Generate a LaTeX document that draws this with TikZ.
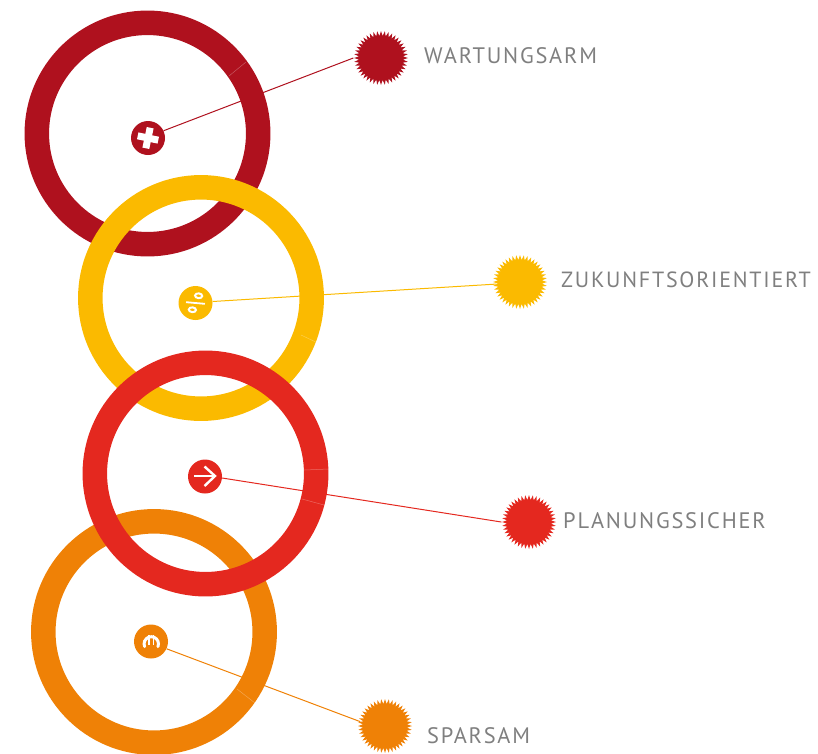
\documentclass[tikz,border=0pt]{standalone}
\usepackage{fontspec}
\setmainfont[LetterSpace=8]{PT Sans}
\usetikzlibrary{shapes.geometric}
\definecolor{cdark}{HTML}{AF111E}
\definecolor{cyel}{HTML}{FBBA00}
\definecolor{cred}{HTML}{E4281F}
\definecolor{corg}{HTML}{EF8106}
\definecolor{cgray}{HTML}{7F7F7F}
\tikzset{
  ring/.style={line width=24.5pt,draw=#1},
  seam/.style={line width=0.5pt,draw=white,opacity=0.3},
  icon/.style={circle,fill=#1,draw=none,minimum size=34pt,inner sep=0pt},
  burst/.style={star,star points=44,star point ratio=1.22,fill=#1,draw=none,minimum size=54pt,inner sep=0pt},
  link/.style={line width=1pt,draw=#1},
  label/.style={anchor=west,text=cgray,font=\fontsize{22.4}{22.4}\selectfont,inner sep=0pt},
  glyph/.style={draw=white,line width=#1,fill=none},
}
\begin{document}
\begin{tikzpicture}[x=1pt,y=-1pt]
\useasboundingbox (0,0) rectangle (818,753);
\clip (0,0) rectangle (818,753);
% nodes
\node[icon=cdark] (i1) at (148,138) {};
\node[icon=cyel] (i2) at (195.5,303) {};
\node[icon=cred] (i3) at (205,476.5) {};
\node[icon=corg] (i4) at (151,641.5) {};
\node[burst=cdark] (s1) at (381,58) {};
\node[burst=cyel] (s2) at (520,282) {};
\node[burst=cred] (s3) at (529,522) {};
\node[burst=corg] (s4) at (385,726) {};
% connectors
\draw[link=cdark] (i1.25) -- (s1.180);
\draw[link=cyel] (i2.5) -- (s2.185);
\draw[link=cred] (i3.355) -- (s3.180);
\draw[link=corg] (i4.335) -- (s4.170);
% rings
\draw[ring=cdark] (147.5,133.5) circle (110.7);
\draw[seam] (229,76) -- (246,62);
\draw[ring=cyel] (201,298) circle (110.7);
\draw[seam] (301,335) -- (322,345);
\draw[ring=corg] (154,632) circle (110.7);
\draw[seam] (237,689) -- (255,703);
\draw[ring=cred] (205.5,473.5) circle (110.7);
\draw[seam] (304,470) -- (329,469);
\draw[seam] (302,499) -- (324,505);
% glyphs
\begin{scope}[shift={(148,138)},rotate=-12]
  \draw[glyph=7pt] (-10.5,0) -- (10.5,0);
  \draw[glyph=7pt] (0,-10.5) -- (0,10.5);
\end{scope}
\begin{scope}[shift={(195.5,303)},rotate=-5]
  \draw[glyph=1.8pt] (-9.5,0) -- (9.5,0);
  \draw[glyph=2pt] (2.5,-7.5) ellipse (3.6 and 2.4);
  \draw[glyph=2pt] (-2.5,7) ellipse (3.6 and 2.4);
\end{scope}
\draw[glyph=2.2pt] (194,476) -- (215,476);
\draw[glyph=2.4pt] (204.5,466.5) -- (215,476) -- (204.5,486);
\begin{scope}[shift={(151.3,644)}]
  \draw[glyph=3pt,line cap=round] (-6.7,2.6) arc (158:382:7.2);
  \draw[glyph=1.8pt] (-2.1,0.5) -- (-2.1,-8.6);
  \draw[glyph=1.8pt] (2.1,0.5) -- (2.1,-8.6);
\end{scope}
% labels
\node[label] (t1) at (424,55.5) {WARTUNGSARM};
\node[label,font=\fontsize{22}{22}\selectfont] (t2) at (561,279.5) {ZUKUNFTSORIENTIERT};
\node[label] (t3) at (563,521) {PLANUNGSSICHER};
\node[label] (t4) at (427,736) {SPARSAM};
\end{tikzpicture}
\end{document}
